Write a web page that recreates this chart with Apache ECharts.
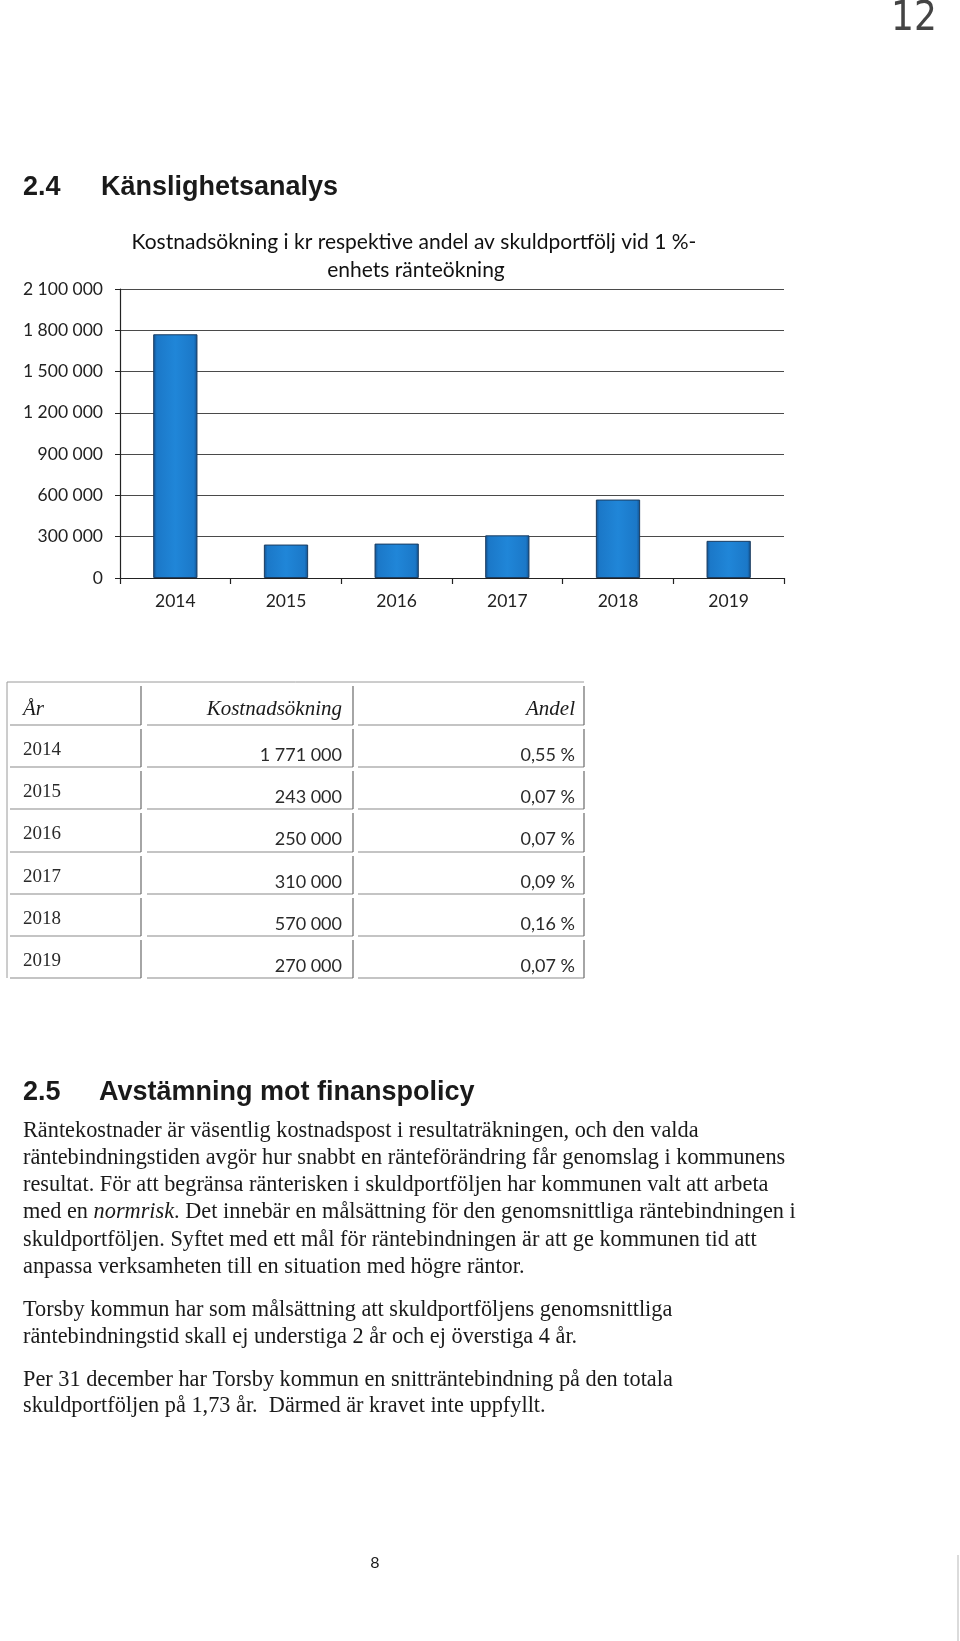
<!DOCTYPE html>
<html>
<head>
<meta charset="utf-8">
<script src="https://cdn.jsdelivr.net/npm/echarts@6/dist/echarts.min.js"></script>
<style>
html,body{margin:0;padding:0;background:#fff;}
#c{width:960px;height:1641px;}
</style>
</head>
<body>
<div id="c"></div>
<script>
// ---- data ----
const years = ['2014', '2015', '2016', '2017', '2018', '2019'];
const kostnad = [1771000, 243000, 250000, 310000, 570000, 270000];
const andel = ['0,55 %', '0,07 %', '0,07 %', '0,09 %', '0,16 %', '0,07 %'];
const yMin = 0, yMax = 2100000, yStep = 300000;
const chartTitle = ['Kostnadsökning i kr respektive andel av skuldportfölj vid 1 %-', 'enhets ränteökning'];
const tableHead = ['År', 'Kostnadsökning', 'Andel'];
const heading1 = ['2.4', 'Känslighetsanalys'];
const heading2 = ['2.5', 'Avstämning mot finanspolicy'];
const para1 = [
  'Räntekostnader är väsentlig kostnadspost i resultaträkningen, och den valda',
  'räntebindningstiden avgör hur snabbt en ränteförändring får genomslag i kommunens',
  'resultat. För att begränsa ränterisken i skuldportföljen har kommunen valt att arbeta',
  'med en {i|normrisk}. Det innebär en målsättning för den genomsnittliga räntebindningen i',
  'skuldportföljen. Syftet med ett mål för räntebindningen är att ge kommunen tid att',
  'anpassa verksamheten till en situation med högre räntor.'
];
const para2 = [
  'Torsby kommun har som målsättning att skuldportföljens genomsnittliga',
  'räntebindningstid skall ej understiga 2 år och ej överstiga 4 år.'
];
const para3 = [
  'Per 31 december har Torsby kommun en snitträntebindning på den totala',
  'skuldportföljen på 1,73 år.  Därmed är kravet inte uppfyllt.'
];
const pageNo = '8';
const handNo = '12';

function fmt(n) { return String(n).replace(/\B(?=(\d{3})+(?!\d))/g, ' '); }

const SANS = 'Lato, "Open Sans", sans-serif';
const SERIF = '"Liberation Serif", "DejaVu Serif", serif';
const HEAD = '"Liberation Sans", Arial, sans-serif';

const g = [];
function txt(x, y, text, o) {
  g.push({type: 'text', silent: true, style: Object.assign({x: x, y: y, text: text, fill: '#1a1a1a',
    textVerticalAlign: 'middle', textAlign: 'left'}, o || {})});
}
function line(x1, y1, x2, y2, col, w) {
  g.push({type: 'line', silent: true, shape: {x1: x1, y1: y1, x2: x2, y2: y2},
    style: {stroke: col || '#8a8a8a', lineWidth: w || 1}});
}

// headings
const hdFont = 'bold 27px ' + HEAD;
txt(23, 188, heading1[0], {font: hdFont});
txt(101, 188, heading1[1], {font: hdFont});
txt(23, 1093, heading2[0], {font: hdFont});
txt(99, 1093, heading2[1], {font: hdFont});

// chart title
txt(414, 242, chartTitle[0], {font: '21px ' + SANS, textAlign: 'center', fill: '#111'});
txt(416, 270, chartTitle[1], {font: '21px ' + SANS, textAlign: 'center', fill: '#111'});

// table
const colL = [10, 147, 358];
const colR = [141, 353, 584];
const rowB = [725, 767, 809, 852, 894, 936, 978];
const tTop = 682;
line(7, tTop, 584, tTop, '#9a9a9a', 1);
line(7, tTop, 7, 978, '#9a9a9a', 1);
for (let r = 0; r < rowB.length; r++) {
  const top = r === 0 ? tTop : rowB[r - 1];
  for (let c = 0; c < 3; c++) {
    line(colL[c], rowB[r], colR[c], rowB[r], '#8a8a8a', 1.2);
    line(colR[c], top + 4, colR[c], rowB[r], '#6a6a6a', 1.2);
  }
}
const hFont = 'italic 21px ' + SERIF;
txt(23, 709, tableHead[0], {font: hFont});
txt(342, 709, tableHead[1], {font: hFont, textAlign: 'right'});
txt(575, 709, tableHead[2], {font: hFont, textAlign: 'right'});
for (let i = 0; i < years.length; i++) {
  const cy = (rowB[i] + rowB[i + 1]) / 2;
  txt(23, cy + 4, years[i], {font: '19px ' + SERIF, fill: '#2a2a2a'});
  txt(342, cy + 9, fmt(kostnad[i]), {font: '18px ' + SANS, textAlign: 'right', fill: '#2a2a2a'});
  txt(575, cy + 9, andel[i], {font: '18px ' + SANS, textAlign: 'right', fill: '#2a2a2a'});
}

// paragraphs
const pFont = '22.3px ' + SERIF;
const rich = {i: {fontStyle: 'italic', font: 'italic 22.3px ' + SERIF, fill: '#1a1a1a'}};
const p1y = [1131, 1158, 1185, 1212, 1240, 1267];
para1.forEach((s, k) => txt(23, p1y[k], s, {font: pFont, rich: rich}));
[1310, 1337].forEach((y, k) => txt(23, y, para2[k], {font: pFont}));
[1380, 1406].forEach((y, k) => txt(23, y, para3[k], {font: pFont}));

// page number and handwritten mark
txt(375, 1563, pageNo, {font: '16px ' + SANS, textAlign: 'center'});
txt(914, 20, handNo, {font: '200 40px "DejaVu Sans Condensed", ' + SANS, textAlign: 'center', fill: '#444'});
line(958, 1555, 958, 1641, '#cfcfcf', 1.5);

const chart = echarts.init(document.getElementById('c'), null, {renderer: 'canvas'});
chart.setOption({
  backgroundColor: '#fff',
  animation: false,
  grid: {left: 120, right: 176, top: 289, bottom: 1641 - 578},
  xAxis: {
    type: 'category', data: years,
    axisLine: {lineStyle: {color: '#222', width: 1.2}},
    axisTick: {show: true, length: 6, inside: false, alignWithLabel: false, lineStyle: {color: '#222', width: 1.2}},
    axisLabel: {color: '#222', fontFamily: SANS, fontSize: 17.5, margin: 14}
  },
  yAxis: {
    type: 'value', min: yMin, max: yMax, interval: yStep,
    axisLine: {show: true, lineStyle: {color: '#222', width: 1.2}},
    axisTick: {show: true, length: 5, lineStyle: {color: '#222'}},
    axisLabel: {color: '#222', fontFamily: SANS, fontSize: 17.5, margin: 17, formatter: v => fmt(v)},
    splitLine: {show: true, lineStyle: {color: '#4a4a4a', width: 1.2}}
  },
  series: [{
    type: 'bar', data: kostnad, barWidth: '40%',
    itemStyle: {
      color: {type: 'linear', x: 0, y: 0, x2: 1, y2: 0, colorStops: [
        {offset: 0, color: '#124f8c'}, {offset: 0.08, color: '#1b78c8'},
        {offset: 0.5, color: '#2086d8'}, {offset: 0.92, color: '#1b78c8'},
        {offset: 1, color: '#124f8c'}]},
      borderColor: '#1c3d60', borderWidth: 1
    }
  }],
  graphic: {elements: g}
});
</script>
</body>
</html>
